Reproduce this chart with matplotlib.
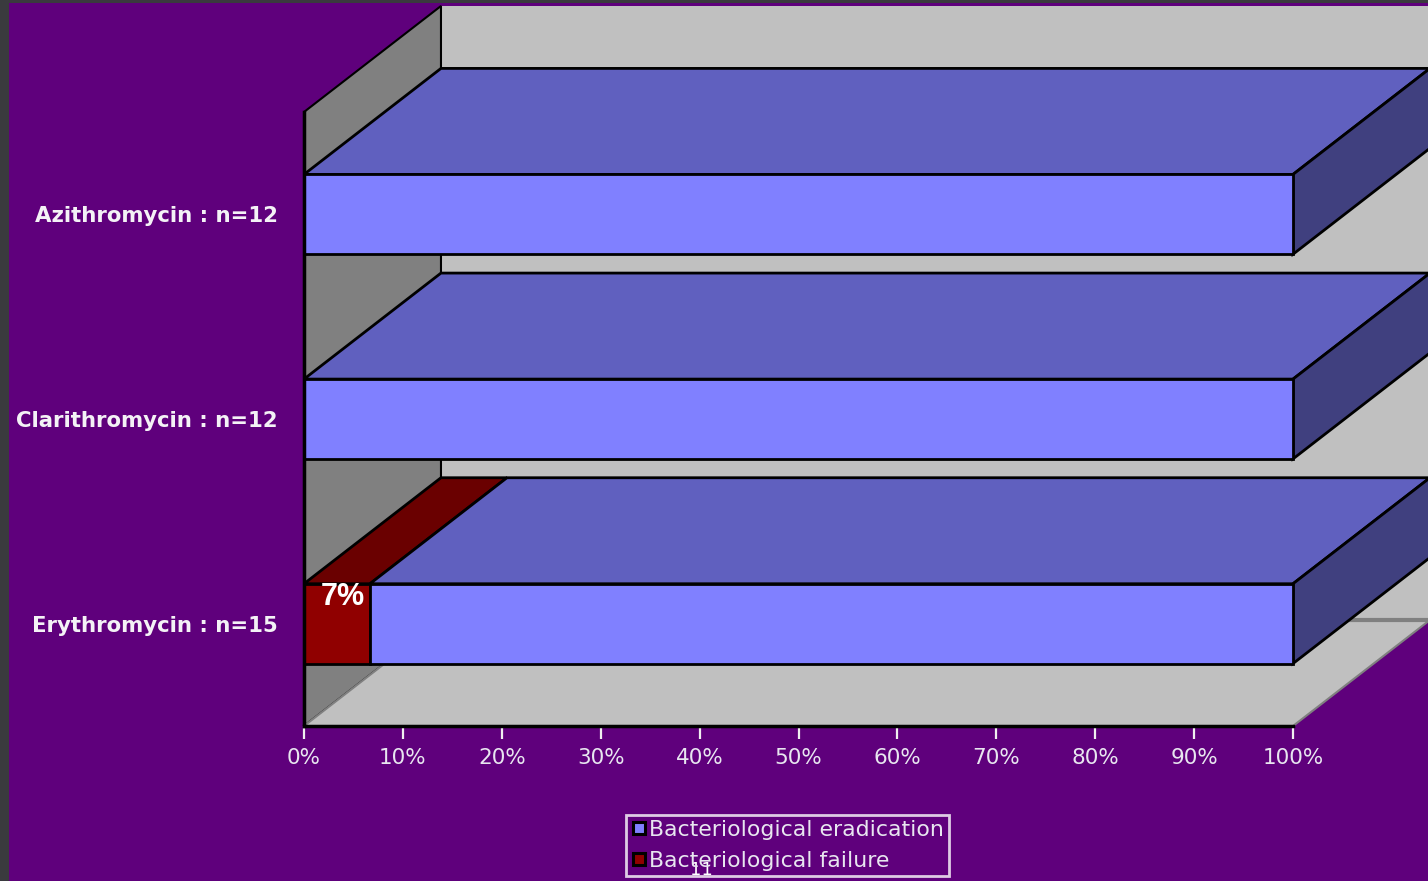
import matplotlib
matplotlib.use('Agg')
import matplotlib.pyplot as plt
from matplotlib.patches import Polygon, Rectangle
from matplotlib.lines import Line2D

# ---------------- data ----------------
categories = ['Erythromycin : n=15', 'Clarithromycin : n=12', 'Azithromycin : n=12']
failure = [6.67, 0.0, 0.0]
eradication = [93.33, 100.0, 100.0]
failure_labels = ['7%', '', '']
series_names = ['Bacteriological eradication', 'Bacteriological failure']
xticks = [0, 10, 20, 30, 40, 50, 60, 70, 80, 90, 100]
xtick_labels = ['0%', '10%', '20%', '30%', '40%', '50%', '60%', '70%', '80%', '90%', '100%']

# ---------------- style ----------------
plt.rcParams['font.family'] = ['DejaVu Sans']
W, H = 1428, 881
BG = '#5f007c'
DEPTH_X = 13.85   # depth offset in % units
DEPTH_Y = 0.518   # depth offset in category units
BAR_H = 0.39
erad_cols = ('#8080ff', '#6060bf', '#40407f')   # front, top, side
fail_cols = ('#900000', '#6a0000', '#480000')

fig = plt.figure(figsize=(W / 100, H / 100), dpi=100)
fig.patch.set_facecolor(BG)
fig.patches.append(Rectangle((0, 0), 9 / W, 1, transform=fig.transFigure,
                             facecolor='#3a3a3e', edgecolor='none', zorder=0))
fig.patches.append(Rectangle((0, 1 - 3 / H), 1, 3 / H, transform=fig.transFigure,
                             facecolor='#3a3a3e', edgecolor='none', zorder=0))

ax = fig.add_axes([304 / W, (H - 726) / H, 989 / W, 614 / H])
ax.set_xlim(0, 100)
ax.set_ylim(0, len(categories))
ax.patch.set_visible(False)
for s in ['top', 'right']:
    ax.spines[s].set_visible(False)
for s in ['left', 'bottom']:
    ax.spines[s].set_color('black')
    ax.spines[s].set_linewidth(2.5)
    ax.spines[s].set_zorder(50)

ncat = len(categories)
dx, dy = DEPTH_X, DEPTH_Y


def poly(pts, fc, ec='black', lw=2.0, z=1):
    ax.add_patch(Polygon(pts, closed=True, facecolor=fc, edgecolor=ec, linewidth=lw,
                         zorder=z, clip_on=False, joinstyle='miter'))


# walls and floor
poly([(dx, dy), (100 + dx, dy), (100 + dx, ncat + dy), (dx, ncat + dy)], '#c0c0c0', ec='none', z=1)
poly([(0, 0), (dx, dy), (dx, ncat + dy), (0, ncat)], '#808080', ec='black', lw=1.5, z=2)
poly([(0, 0), (100, 0), (100 + dx, dy), (dx, dy)], '#c0c0c0', ec='#808080', lw=1.5, z=3)
ax.plot([dx, 100 + dx], [dy, dy], color='#808080', lw=3, zorder=3.5, clip_on=False,
        solid_capstyle='butt')

# bars
for i, cat in enumerate(categories):
    c = i + 0.5
    y0, y1 = c - BAR_H / 2, c + BAR_H / 2
    segs = [(0, failure[i], fail_cols), (failure[i], eradication[i], erad_cols)]
    segs = [s for s in segs if s[1] > 0]
    z = 10 + i * 5
    for k, (l, w, cols) in enumerate(segs):
        r = l + w
        poly([(l, y1), (r, y1), (r + dx, y1 + dy), (l + dx, y1 + dy)], cols[1], z=z)
        poly([(l, y0), (r, y0), (r, y1), (l, y1)], cols[0], z=z + 1)
        if k == len(segs) - 1:
            poly([(r, y0), (r + dx, y0 + dy), (r + dx, y1 + dy), (r, y1)], cols[2], z=z)
    if failure_labels[i]:
        ax.annotate(failure_labels[i], xy=(failure[i] / 2, c), xytext=(4, 19.5),
                    textcoords='offset points', ha='center', va='center',
                    color='white', fontsize=22, fontweight='bold', zorder=60,
                    family='Liberation Sans')

# ticks
ax.set_xticks(xticks)
ax.set_xticklabels(xtick_labels)
ax.tick_params(axis='x', direction='out', length=9, width=1.6, color='#f0f0f0',
               labelcolor='#e8e6f0', labelsize=15.5, pad=7)
ax.set_yticks([i + 0.5 for i in range(ncat)])
ax.set_yticklabels(categories)
ax.tick_params(axis='y', length=0, pad=19, labelcolor='#f4f2f6', labelsize=15.3)
for t in ax.get_yticklabels():
    t.set_fontweight('bold')

# legend
handles = [Line2D([], [], marker='s', linestyle='none', markerfacecolor=erad_cols[0],
                  markeredgecolor='black', markeredgewidth=2.2, markersize=9),
           Line2D([], [], marker='s', linestyle='none', markerfacecolor=fail_cols[0],
                  markeredgecolor='black', markeredgewidth=2.2, markersize=9)]
fig.text(701 / W, 1 - 870 / H, '11', color='white', fontsize=13, ha='center', va='center')
leg = fig.legend(handles, series_names, loc='upper left',
                 bbox_to_anchor=(626 / W, 1 - 815 / H), fontsize=15.8,
                 frameon=True, fancybox=False, borderpad=0.22, labelspacing=0.5,
                 handletextpad=0.15, handlelength=0.7, borderaxespad=0)
leg.get_frame().set_facecolor('none')
leg.get_frame().set_edgecolor('white')
leg.get_frame().set_linewidth(2)
for t in leg.get_texts():
    t.set_color('#e8e6f0')

fig.savefig('out.png', dpi=100, facecolor=BG)
